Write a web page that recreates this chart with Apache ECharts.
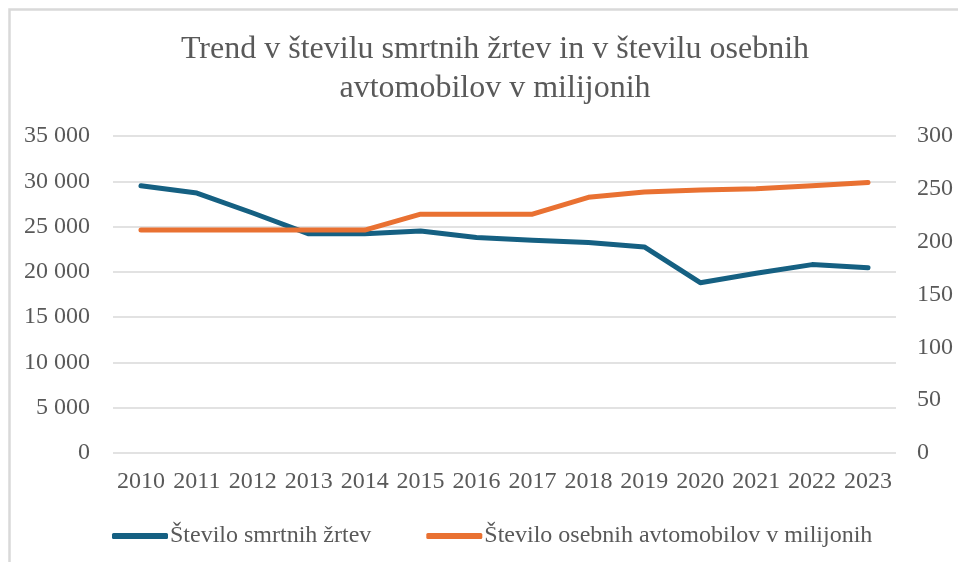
<!DOCTYPE html>
<html>
<head>
<meta charset="utf-8">
<script src="https://cdn.jsdelivr.net/npm/echarts@6/dist/echarts.min.js"></script>
<style>
  html, body { margin: 0; padding: 0; background: #fff; }
  #chart { width: 958px; height: 562px; }
</style>
</head>
<body>
<div id="chart"></div>
<script>
// podatki
var years = ['2010', '2011', '2012', '2013', '2014', '2015', '2016', '2017', '2018', '2019', '2020', '2021', '2022', '2023']
var zrtve = [29500, 28700, 26500, 24200, 24200, 24500, 23800, 23500, 23250, 22750, 18800, 19850, 20800, 20450]
var avtomobili = [211, 211, 211, 211, 211, 226, 226, 226, 242, 247, 249, 250, 253, 256]
var leftTicks = { min: 0, max: 35000, interval: 5000 }
var rightTicks = { min: 0, max: 300, interval: 50 }

var font = '"Liberation Serif", "Times New Roman", serif'
var grey = '#595959'

function spaced (v) {
    return String(v).replace(/\B(?=(\d{3})+(?!\d))/g, ' ')
}

var myChart = echarts.init(document.getElementById('chart'))
myChart.setOption({
    animation: false,
    textStyle: { fontFamily: font },
    title: {
        text: 'Trend v številu smrtnih žrtev in v številu osebnih\navtomobilov v milijonih',
        left: 490,
        top: 25,
        textAlign: 'center',
        textStyle: {
            fontFamily: font,
            fontSize: 32,
            fontWeight: 'normal',
            color: grey,
            lineHeight: 39
        }
    },
    graphic: [{
        type: 'rect',
        shape: { x: 9.5, y: 9.5, width: 1000, height: 600 },
        style: { fill: 'none', stroke: '#d9d9d9', lineWidth: 2.5 },
        silent: true
    }],
    legend: {
        left: 107,
        top: 519,
        itemGap: 55,
        itemWidth: 56,
        itemHeight: 6,
        icon: 'roundRect',
        textStyle: { fontFamily: font, fontSize: 24, color: grey, padding: [0, 0, 0, -3] },
        data: ['Število smrtnih žrtev', 'Število osebnih avtomobilov v milijonih']
    },
    grid: {
        left: 113,
        right: 62,
        top: 136,
        bottom: 109
    },
    xAxis: {
        type: 'category',
        data: years,
        boundaryGap: true,
        axisLine: { show: false },
        axisTick: { show: false },
        axisLabel: {
            fontFamily: font,
            fontSize: 24,
            color: grey,
            margin: 17,
            interval: 0
        }
    },
    yAxis: [{
        type: 'value',
        min: leftTicks.min,
        max: leftTicks.max,
        interval: leftTicks.interval,
        axisLine: { show: false },
        axisTick: { show: false },
        splitLine: { lineStyle: { color: '#d9d9d9', width: 1.5 } },
        axisLabel: {
            fontFamily: font,
            fontSize: 24,
            color: grey,
            margin: 23,
            formatter: spaced
        }
    }, {
        type: 'value',
        min: rightTicks.min,
        max: rightTicks.max,
        interval: rightTicks.interval,
        axisLine: { show: false },
        axisTick: { show: false },
        splitLine: { show: false },
        axisLabel: {
            fontFamily: font,
            fontSize: 24,
            color: grey,
            margin: 21
        }
    }],
    series: [{
        name: 'Število smrtnih žrtev',
        type: 'line',
        yAxisIndex: 0,
        data: zrtve,
        showSymbol: false,
        symbol: 'none',
        color: '#156082',
        lineStyle: { width: 5, color: '#156082', cap: 'round', join: 'round' }
    }, {
        name: 'Število osebnih avtomobilov v milijonih',
        type: 'line',
        yAxisIndex: 1,
        data: avtomobili,
        showSymbol: false,
        symbol: 'none',
        color: '#e97132',
        lineStyle: { width: 5, color: '#e97132', cap: 'round', join: 'round' }
    }]
})
</script>
</body>
</html>
